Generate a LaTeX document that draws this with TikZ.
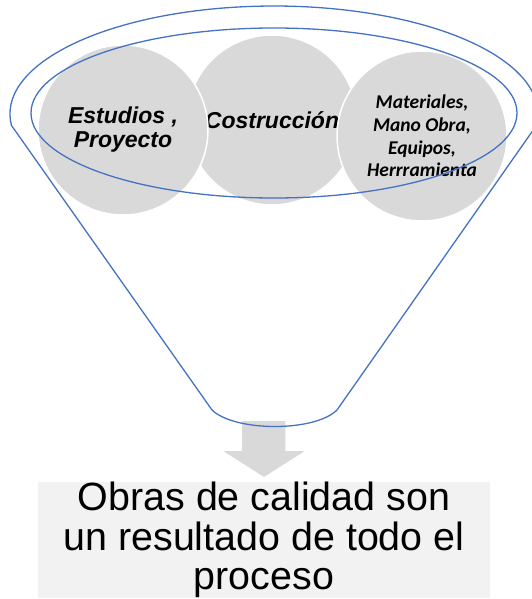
\documentclass[tikz,border=0pt]{standalone}
\usepackage{fontspec}
\setmainfont{Liberation Sans}
\newfontfamily\calibri{Carlito}
\usepackage{tikz}
\usepackage{xcolor}
\definecolor{embudo}{HTML}{4472C4}
\definecolor{bola}{HTML}{D9D9D9}
\definecolor{caja}{HTML}{F2F2F2}

\begin{document}
\begin{tikzpicture}[x=1pt, y=-1pt,
        bola/.style={circle, fill=bola, draw=white, line width=1.5pt, inner sep=0pt, minimum size=170pt, align=center},
        grande/.style={font=\fontsize{23}{24}\selectfont\bfseries\itshape},
        borde/.style={draw=embudo, line width=1.3pt, line join=round}]
        \useasboundingbox (0,0) rectangle (531,599);

        \node[bola, grande] (cons) at (272,120) {Costrucción};
        \node[bola, grande] (est) at (123,130) {Estudios ,\\Proyecto};
        \node[bola, font=\calibri\fontsize{19.5}{22.7}\selectfont\bfseries\itshape] (mat) at (422,136) {Materiales,\\Mano Obra,\\Equipos,\\Herrramienta};

        \coordinate (izq) at (11.4,125.3);
        \coordinate (fondoIzq) at (212,410);
        \coordinate (fondoDer) at (337,410);

        \fill[bola] (241,420) -- (286,420) -- (286,450) -- (308,450) -- (264,478) -- (220,450) -- (241,450) -- cycle;

        \draw[borde] (izq) arc[start angle=174, end angle=366, x radius=264, y radius=108]
            -- (fondoDer) .. controls (315,432) and (235,432) .. (fondoIzq) -- cycle;
        \draw[borde] (274,113) ellipse[x radius=243, y radius=85];

        \node[fill=caja, minimum width=452pt, minimum height=116pt, inner sep=0pt, align=center, font=\fontsize{39.4}{39.5}\selectfont] (obras) at (264,540) {Obras de calidad son\\un resultado de todo el\\proceso};
    \end{tikzpicture}
\end{document}
